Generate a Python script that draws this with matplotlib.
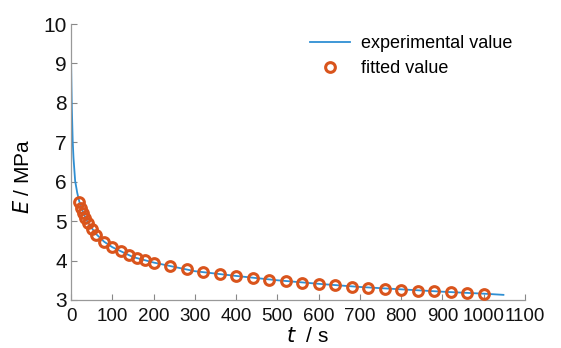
import matplotlib
matplotlib.use("Agg")
import matplotlib.pyplot as plt

# experimental curve
t_exp = [0, 0.5, 1, 2, 4, 6, 10, 15, 20, 30, 40, 60, 80, 100, 150, 200, 300,
         400, 500, 600, 700, 800, 900, 1000, 1048]
E_exp = [9.15, 8.8, 8.45, 7.85, 7.05, 6.6, 6.02, 5.72, 5.5, 5.2, 4.98, 4.68,
         4.48, 4.34, 4.09, 3.95, 3.73, 3.61, 3.5, 3.41, 3.33, 3.27, 3.21, 3.16, 3.13]

# fitted values
t_fit = [20, 25, 30, 35, 40, 50, 60, 80, 100, 120, 140, 160, 180, 200, 240, 280,
         320, 360, 400, 440, 480, 520, 560, 600, 640, 680, 720, 760, 800, 840,
         880, 920, 960, 1000]
E_fit = [5.49, 5.33, 5.20, 5.07, 4.95, 4.80, 4.66, 4.48, 4.34, 4.24, 4.14, 4.07,
         4.01, 3.95, 3.86, 3.79, 3.72, 3.66, 3.61, 3.56, 3.51, 3.47, 3.43, 3.40,
         3.37, 3.34, 3.31, 3.29, 3.26, 3.24, 3.22, 3.20, 3.18, 3.16]

x_ticks = list(range(0, 1101, 100))
y_ticks = list(range(3, 11))

plt.rcParams['font.family'] = ['Liberation Sans', 'DejaVu Sans']

fig = plt.figure(figsize=(5.61, 3.48), dpi=100)
ax = fig.add_axes([0.1266, 0.138, 0.809, 0.793])

ax.plot(t_exp, E_exp, color='#2f8fd3', lw=1.3, label='experimental value', zorder=2)
ax.plot(t_fit, E_fit, linestyle='none', marker='o', ms=7, mfc='none',
        mec='#d9541c', mew=2.2, label='fitted value', zorder=3)

ax.set_xlim(0, 1100)
ax.set_ylim(3, 10)
ax.set_xticks(x_ticks)
ax.set_yticks(y_ticks)
ax.tick_params(direction='in', length=4, width=0.8, color='#888888',
               labelcolor='#111111')
ax.tick_params(axis='x', labelsize=13.5, pad=6)
ax.tick_params(axis='y', labelsize=15, pad=3)
for s in ['top', 'right']:
    ax.spines[s].set_visible(False)
for s in ['left', 'bottom']:
    ax.spines[s].set_color('#999999')
    ax.spines[s].set_linewidth(0.9)

ax.set_xlabel(r'$\mathit{t}$  / s', fontsize=15)
ax.set_ylabel(r'$\mathit{E}$ / MPa', fontsize=15)
ax.xaxis.set_label_coords(0.522, -0.098)
ax.yaxis.set_label_coords(-0.084, 0.45)

leg = ax.legend(loc='upper right', bbox_to_anchor=(0.996, 1.0), frameon=False,
                fontsize=13, handlelength=2.2, handletextpad=0.6,
                labelspacing=0.45, borderaxespad=0.2)

fig.savefig('out.png', dpi=100)
